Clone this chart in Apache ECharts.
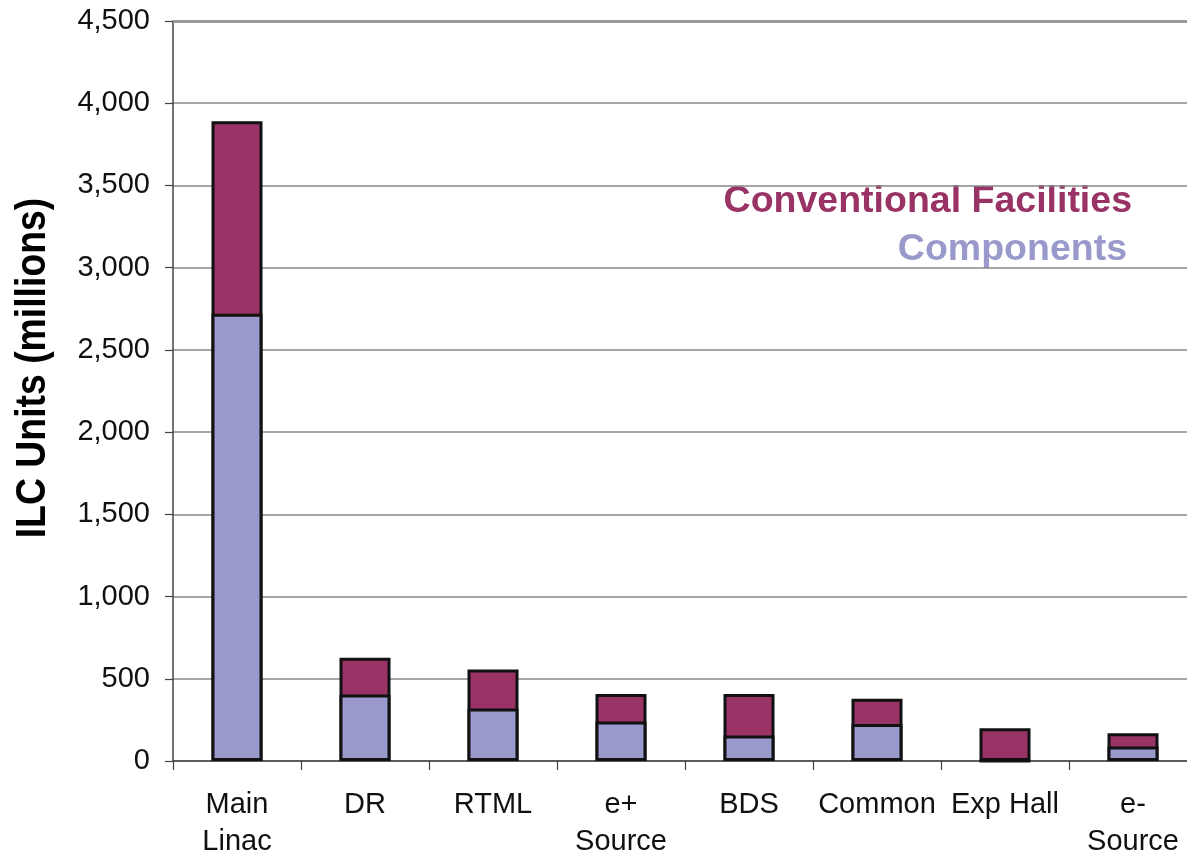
<!DOCTYPE html>
<html>
<head>
<meta charset="utf-8">
<script src="https://cdn.jsdelivr.net/npm/echarts@6/dist/echarts.min.js"></script>
<style>
  html, body { margin: 0; padding: 0; background: #fff; }
  #chart { width: 1187px; height: 853px; }
</style>
</head>
<body>
<div id="chart"></div>
<script>
const categories = ['Main\nLinac', 'DR', 'RTML', 'e+\nSource', 'BDS', 'Common', 'Exp Hall', 'e-\nSource'];
const components = [2720, 405, 320, 240, 155, 225, 0, 88];
const conventionalFacilities = [1170, 223, 237, 167, 252, 154, 199, 80];
const yMin = 0, yMax = 4500, yStep = 500;
const yTitle = 'ILC Units (millions)';
const legendCF = 'Conventional Facilities';
const legendComp = 'Components';

const COLOR_CF = '#993366';
const COLOR_COMP = '#9999CC';

// full bar height (components + conventional facilities); components are drawn over it
const totals = components.map((c, i) => c + conventionalFacilities[i]);

const chart = echarts.init(document.getElementById('chart'), null, { renderer: 'canvas' });

chart.setOption({
  animation: false,
  backgroundColor: '#fff',
  grid: { left: 173, top: 21, width: 1024, height: 740, containLabel: false, outerBoundsMode: 'none' },
  xAxis: {
    type: 'category',
    data: categories,
    boundaryGap: true,
    axisLine: { lineStyle: { color: '#444', width: 1.5 } },
    axisTick: { show: true, length: 9, inside: false, lineStyle: { color: '#444', width: 1.2 } },
    axisLabel: {
      color: '#111',
      fontFamily: 'Liberation Sans, Arial, sans-serif',
      fontSize: 29,
      lineHeight: 37,
      margin: 25,
      interval: 0
    }
  },
  yAxis: {
    type: 'value',
    min: yMin,
    max: yMax,
    interval: yStep,
    axisLine: { show: true, lineStyle: { color: '#444', width: 1.5 } },
    axisTick: { show: true, length: 8, inside: false, lineStyle: { color: '#444', width: 1.2 } },
    splitLine: { show: true, lineStyle: { color: '#888', width: 1.5 } },
    axisLabel: {
      color: '#111',
      fontFamily: 'Liberation Sans, Arial, sans-serif',
      fontSize: 29,
      margin: 23,
      formatter: v => v.toLocaleString('en-US')
    }
  },
  series: [
    {
      type: 'bar',
      name: legendCF,
      data: totals,
      barWidth: 51,
      barGap: '-100%',
      z: 2,
      itemStyle: { color: COLOR_CF, borderColor: '#111', borderWidth: 3 },
      emphasis: { disabled: true },
      markLine: {
        silent: true,
        symbol: 'none',
        label: { show: false },
        lineStyle: { color: '#999', width: 3, type: 'solid' },
        data: [{ yAxis: yMax }]
      }
    },
    {
      type: 'bar',
      name: legendComp,
      data: components,
      barWidth: 51,
      barGap: '-100%',
      z: 3,
      itemStyle: { color: COLOR_COMP, borderColor: '#111', borderWidth: 3 },
      emphasis: { disabled: true }
    }
  ],
  graphic: [
    {
      type: 'text',
      x: 33, y: 368,
      rotation: Math.PI / 2,
      scaleX: 0.89,
      style: {
        text: yTitle,
        fill: '#000',
        font: 'bold 42px "Liberation Sans", Arial, sans-serif',
        textAlign: 'center',
        textVerticalAlign: 'middle'
      }
    },
    {
      type: 'text',
      x: 1132, y: 202,
      style: {
        text: legendCF,
        fill: COLOR_CF,
        font: 'bold 37.5px "Liberation Sans", Arial, sans-serif',
        textAlign: 'right',
        textVerticalAlign: 'middle'
      }
    },
    {
      type: 'text',
      x: 1127, y: 250,
      style: {
        text: legendComp,
        fill: COLOR_COMP,
        font: 'bold 37.5px "Liberation Sans", Arial, sans-serif',
        textAlign: 'right',
        textVerticalAlign: 'middle'
      }
    }
  ]
});
</script>
</body>
</html>
